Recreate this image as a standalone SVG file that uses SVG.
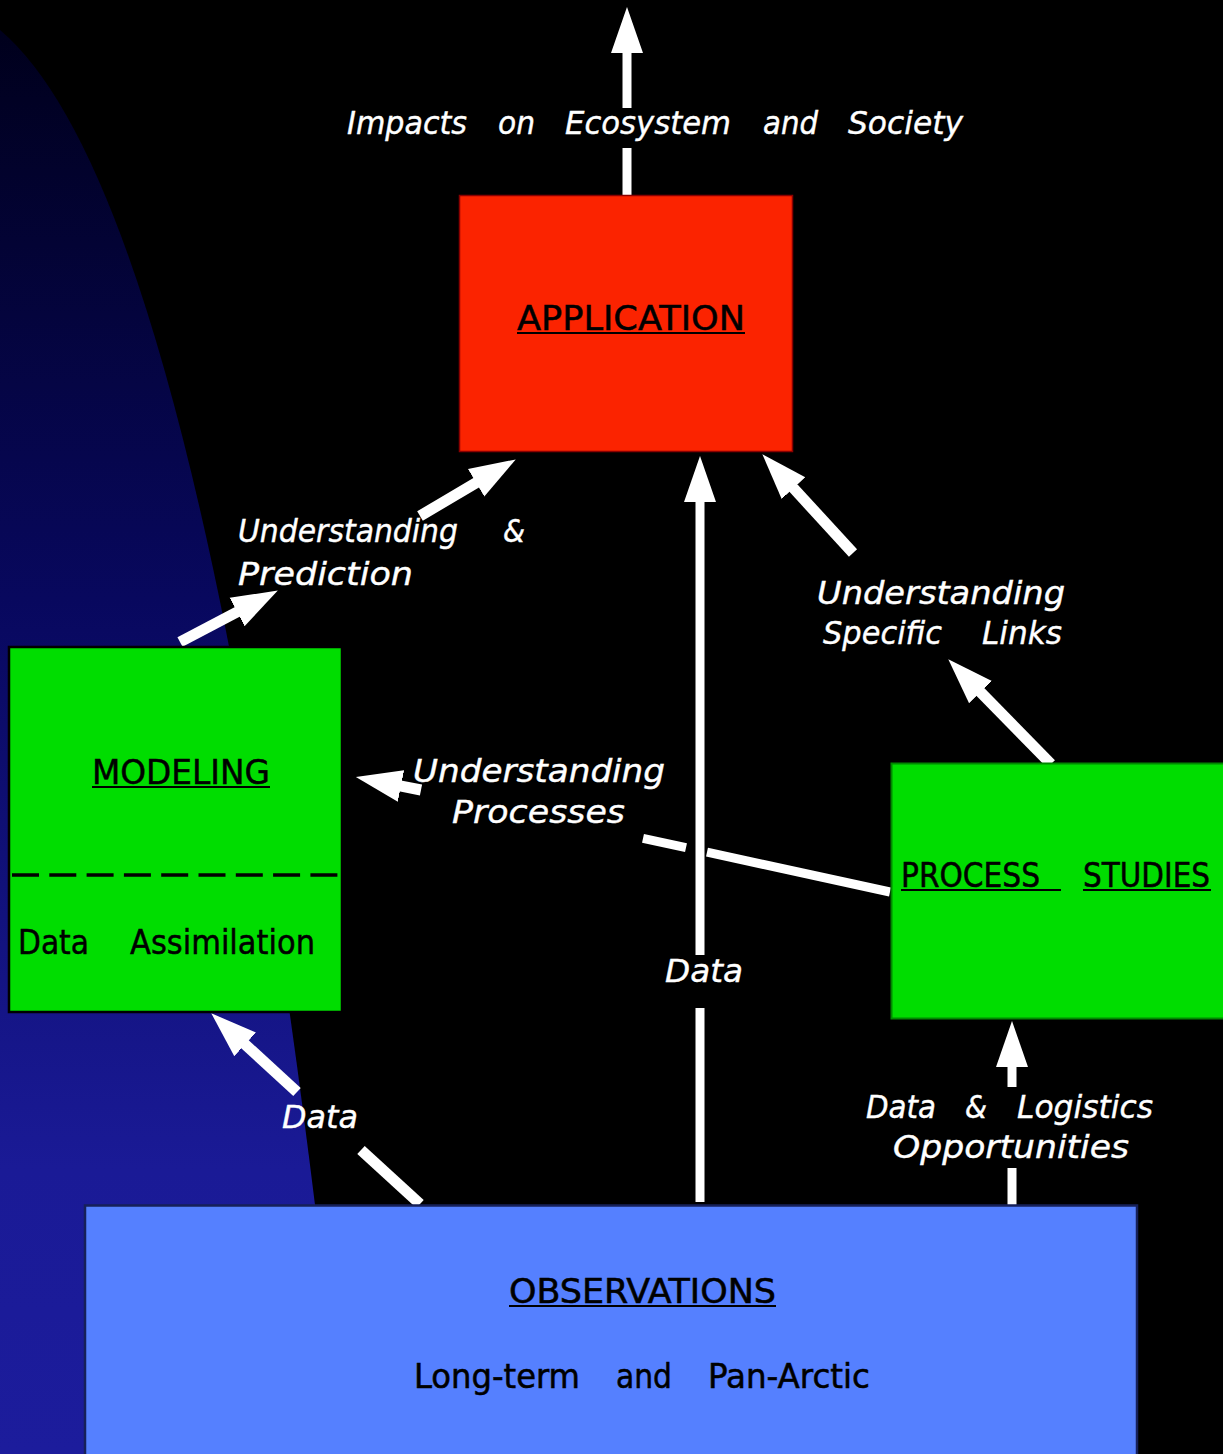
<svg xmlns="http://www.w3.org/2000/svg" width="1223" height="1454" viewBox="0 0 1223 1454">
  <defs>
    <linearGradient id="bgblue" gradientUnits="userSpaceOnUse" x1="0" y1="30" x2="0" y2="1454">
      <stop offset="0" stop-color="#00001c"/>
      <stop offset="0.4" stop-color="#08085e"/>
      <stop offset="0.8" stop-color="#1a1a96"/>
      <stop offset="1" stop-color="#1c1c9c"/>
    </linearGradient>
    <marker id="ah" markerUnits="userSpaceOnUse" markerWidth="46" markerHeight="34" viewBox="0 0 46 34" refX="1" refY="17" orient="auto">
      <path d="M0,1 L46,17 L0,33 Z" fill="#ffffff"/>
    </marker>
    <style>
      .lbl { font-family: "DejaVu Sans", "Liberation Sans", sans-serif; font-style: italic; font-size: 32px; fill: #ffffff; stroke: #ffffff; stroke-width: 0.4; }
      .nt { font-family: "DejaVu Sans", "Liberation Sans", sans-serif; font-size: 34px; fill: #000000; stroke: #000000; stroke-width: 0.5; }
      .nc { font-family: "DejaVu Sans Condensed", "DejaVu Sans", sans-serif; font-stretch: condensed; font-size: 34px; fill: #000000; stroke: #000000; stroke-width: 0.5; }
      .ul { stroke: #000000; stroke-width: 2; }
      .sh { stroke: #ffffff; stroke-width: 11; fill: none; }
      .sv { stroke: #ffffff; stroke-width: 9; fill: none; }
    </style>
  </defs>

  <rect x="0" y="0" width="1223" height="1454" fill="#000000"/>
  <path d="M0,30 Q190,190 315,1205 L315,1454 L0,1454 Z" fill="url(#bgblue)"/>

  <g id="connectors">
    <line class="sv" x1="627" y1="197" x2="627" y2="148"/>
    <line class="sv" x1="627" y1="108" x2="627" y2="52" marker-end="url(#ah)"/>
    <line class="sh" x1="180" y1="642" x2="238" y2="611.5" marker-end="url(#ah)"/>
    <line class="sh" x1="420" y1="516" x2="477" y2="482.3" marker-end="url(#ah)"/>
    <line class="sv" x1="700" y1="1202" x2="700" y2="1008"/>
    <line class="sv" x1="700" y1="955" x2="700" y2="501" marker-end="url(#ah)"/>
    <line class="sv" x1="890" y1="892" x2="707" y2="852.2"/>
    <line class="sv" x1="686" y1="847.6" x2="643" y2="838.3"/>
    <line class="sh" x1="421" y1="790" x2="400" y2="785.8" marker-end="url(#ah)"/>
    <line class="sh" x1="853" y1="553" x2="792.8" y2="487.4" marker-end="url(#ah)"/>
    <line class="sh" x1="1051" y1="764" x2="979.8" y2="691.4" marker-end="url(#ah)"/>
    <line class="sh" x1="297" y1="1092" x2="244.4" y2="1043.7" marker-end="url(#ah)"/>
    <line class="sh" x1="361" y1="1150" x2="420" y2="1204"/>
    <line class="sv" x1="1012" y1="1205" x2="1012" y2="1168"/>
    <line class="sv" x1="1012" y1="1087" x2="1012" y2="1066" marker-end="url(#ah)"/>
  </g>

  <g id="labels">
    <text class="lbl" x="347" y="134" textLength="120" lengthAdjust="spacingAndGlyphs">Impacts</text>
    <text class="lbl" x="498" y="134" textLength="37" lengthAdjust="spacingAndGlyphs">on</text>
    <text class="lbl" x="565" y="134" textLength="166" lengthAdjust="spacingAndGlyphs">Ecosystem</text>
    <text class="lbl" x="763" y="134" textLength="55" lengthAdjust="spacingAndGlyphs">and</text>
    <text class="lbl" x="848" y="134" textLength="115" lengthAdjust="spacingAndGlyphs">Society</text>

    <text class="lbl" x="238" y="542" textLength="220" lengthAdjust="spacingAndGlyphs">Understanding</text>
    <text class="lbl" x="503" y="542" textLength="22" lengthAdjust="spacingAndGlyphs">&amp;</text>
    <text class="lbl" x="238" y="585" textLength="175" lengthAdjust="spacingAndGlyphs">Prediction</text>

    <text class="lbl" x="413" y="782" textLength="252" lengthAdjust="spacingAndGlyphs">Understanding</text>
    <text class="lbl" x="452" y="823" textLength="173" lengthAdjust="spacingAndGlyphs">Processes</text>

    <text class="lbl" x="817" y="604" textLength="248" lengthAdjust="spacingAndGlyphs">Understanding</text>
    <text class="lbl" x="823" y="644" textLength="119" lengthAdjust="spacingAndGlyphs">Specific</text>
    <text class="lbl" x="982" y="644" textLength="80" lengthAdjust="spacingAndGlyphs">Links</text>

    <text class="lbl" x="665" y="982" textLength="78" lengthAdjust="spacingAndGlyphs">Data</text>
    <text class="lbl" x="282" y="1128" textLength="76" lengthAdjust="spacingAndGlyphs">Data</text>

    <text class="lbl" x="866" y="1118" textLength="70" lengthAdjust="spacingAndGlyphs">Data</text>
    <text class="lbl" x="965" y="1118" textLength="22" lengthAdjust="spacingAndGlyphs">&amp;</text>
    <text class="lbl" x="1017" y="1118" textLength="136" lengthAdjust="spacingAndGlyphs">Logistics</text>
    <text class="lbl" x="893" y="1158" textLength="236" lengthAdjust="spacingAndGlyphs">Opportunities</text>
  </g>

  <g id="application">
    <rect x="459.5" y="195.5" width="333" height="256" fill="#fb2300" stroke="#8a0000" stroke-width="1.5"/>
    <text class="nt" x="517" y="330" textLength="228" lengthAdjust="spacingAndGlyphs">APPLICATION</text>
    <line class="ul" x1="517" y1="333" x2="745" y2="333"/>
  </g>

  <g id="modeling">
    <rect x="9" y="647" width="333" height="365" fill="#00dd00" stroke="#000000" stroke-width="2.5"/>
    <text class="nt" x="92" y="784" textLength="178" lengthAdjust="spacingAndGlyphs">MODELING</text>
    <line class="ul" x1="92" y1="787" x2="270" y2="787"/>
    <line x1="12" y1="875" x2="338" y2="875" stroke="#000000" stroke-width="3.5" stroke-dasharray="27 10.3"/>
    <text class="nt" x="18" y="954" textLength="71" lengthAdjust="spacingAndGlyphs">Data</text>
    <text class="nt" x="130" y="954" textLength="185" lengthAdjust="spacingAndGlyphs">Assimilation</text>
  </g>

  <g id="process-studies">
    <rect x="891.5" y="763.5" width="340" height="255" fill="#00dd00" stroke="#008800" stroke-width="2"/>
    <text class="nc" x="901" y="887" textLength="139" lengthAdjust="spacingAndGlyphs">PROCESS</text>
    <text class="nc" x="1083" y="887" textLength="127" lengthAdjust="spacingAndGlyphs">STUDIES</text>
    <line class="ul" x1="901" y1="890" x2="1061" y2="890"/>
    <line class="ul" x1="1083" y1="890" x2="1211" y2="890"/>
  </g>

  <g id="observations">
    <rect x="85" y="1205.5" width="1052" height="260" fill="#5580ff" stroke="#16205a" stroke-width="2.5"/>
    <text class="nc" x="509" y="1303" textLength="267" lengthAdjust="spacingAndGlyphs">OBSERVATIONS</text>
    <line class="ul" x1="509" y1="1306" x2="776" y2="1306"/>
    <text class="nc" x="414" y="1388" textLength="166" lengthAdjust="spacingAndGlyphs">Long-term</text>
    <text class="nc" x="616" y="1388" textLength="56" lengthAdjust="spacingAndGlyphs">and</text>
    <text class="nc" x="708" y="1388" textLength="162" lengthAdjust="spacingAndGlyphs">Pan-Arctic</text>
  </g>
</svg>
